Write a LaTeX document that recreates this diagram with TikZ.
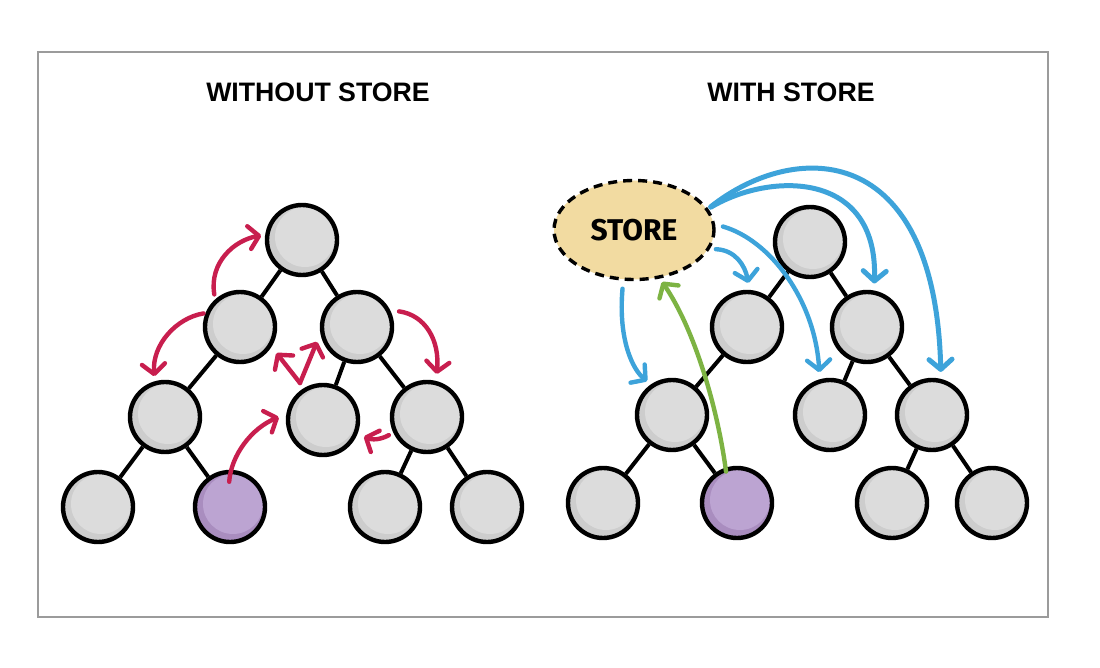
\documentclass[tikz,border=0pt]{standalone}
\usepackage{fontspec}
\setmainfont{Liberation Sans}
\newfontfamily\storefont{Fira Sans}
\usetikzlibrary{arrows.meta,shapes.geometric}
\definecolor{framegray}{HTML}{9B9B9B}
\definecolor{nodegray}{HTML}{CDCDCD}
\definecolor{nodelight}{HTML}{DCDCDC}
\definecolor{purpbase}{HTML}{A98DBF}
\definecolor{purplight}{HTML}{BCA4D2}
\definecolor{redarrow}{HTML}{C81E4E}
\definecolor{bluearrow}{HTML}{3DA3DA}
\definecolor{greenarrow}{HTML}{7DB343}
\definecolor{storefill}{HTML}{F2DBA1}
\tikzset{
  tnode/.style={circle, draw=black, line width=4.4pt, minimum size=70pt, inner sep=0pt,
    fill=nodegray,
    path picture={\fill[nodelight] ([xshift=3pt,yshift=3pt]path picture bounding box.center) circle[radius=30pt];}},
  pnode/.style={tnode, fill=purpbase,
    path picture={\fill[purplight] ([xshift=3pt,yshift=3pt]path picture bounding box.center) circle[radius=30pt];}},
  edge/.style={line width=4pt, draw=black},
  arr/.style={line width=4.4pt, line cap=round,
    -{Straight Barb[length=10pt,width=23pt,line cap=round,line join=round]}},
  redarr/.style={arr, draw=redarrow},
  bluearr/.style={arr, draw=bluearrow},
  greenarr/.style={arr, draw=greenarrow},
  title/.style={font=\bfseries\fontsize{26.7}{31}\selectfont, inner sep=0pt},
}
\begin{document}
\begin{tikzpicture}[x=1pt,y=-1pt]
\useasboundingbox[fill=white] (0,0) rectangle (1100,668);
\node[draw=framegray, line width=1.6pt, minimum width=1010pt, minimum height=565pt, inner sep=0pt] (frame) at (543,334.5) {};

\node[title] (t1) at (318,92) {WITHOUT STORE};
\node[title] (t2) at (791,92) {WITH STORE};

% left tree
\node[tnode] (root) at (302,240) {};
\node[tnode] (l1a) at (240,327) {};
\node[tnode] (l1b) at (357,327) {};
\node[tnode] (l2a) at (165,417) {};
\node[tnode] (l2b) at (323,420) {};
\node[tnode] (l2c) at (427,417) {};
\node[tnode] (l3a) at (98,507) {};
\node[pnode] (l3b) at (230,507) {};
\node[tnode] (l3c) at (385,507) {};
\node[tnode] (l3d) at (487,507) {};
\draw[edge] (root) -- (l1a);
\draw[edge] (root) -- (l1b);
\draw[edge] (l1a) -- (l2a);
\draw[edge] (l1b) -- (l2b);
\draw[edge] (l1b) -- (l2c);
\draw[edge] (l2a) -- (l3a);
\draw[edge] (l2a) -- (l3b);
\draw[edge] (l2c) -- (l3c);
\draw[edge] (l2c) -- (l3d);

% red arrows
\draw[redarr, shorten <=5pt, shorten >=4pt] (l1a.132) .. controls (209,262) and (235,240) .. (root.172);
\draw[redarr, shorten <=2pt, shorten >=5pt] (l1a.158) .. controls (176,318) and (152,345) .. (l2a.106);
\coordinate (vtip) at (300,383);
\draw[redarr, shorten >=8pt] (vtip) -- (l1a.-32);
\draw[redarr, shorten >=9pt] (vtip) -- (l1b.190);
\draw[redarr, shorten <=-12pt, shorten >=8pt] (l3b.north) .. controls (231,455) and (252,428) .. (l2b.171);
\draw[redarr, shorten <=9pt, shorten >=7pt] (l1b.27) .. controls (425,315) and (440,340) .. (l2c.76);
\draw[redarr, shorten <=5pt, shorten >=7pt] (l2c.205) .. controls (380,440) and (372,440) .. (l2b.-22);

% right tree
\node[ellipse, draw=black, line width=3.4pt, dash pattern=on 9pt off 6pt, fill=storefill,
  minimum width=160pt, minimum height=99pt, inner sep=0pt,
  font=\storefont\bfseries\fontsize{30}{34}\selectfont] (store) at (634,230) {STORE};
\node[tnode] (rroot) at (810,242) {};
\node[tnode] (r1a) at (747,327) {};
\node[tnode] (r1b) at (867,327) {};
\node[tnode] (r2a) at (672,415) {};
\node[tnode] (r2b) at (830,415) {};
\node[tnode] (r2c) at (932,415) {};
\node[tnode] (r3a) at (603,503) {};
\node[pnode] (r3b) at (737,503) {};
\node[tnode] (r3c) at (892,503) {};
\node[tnode] (r3d) at (992,503) {};
\draw[edge] (rroot) -- (r1a);
\draw[edge] (rroot) -- (r1b);
\draw[edge] (r1a) -- (r2a);
\draw[edge] (r1b) -- (r2b);
\draw[edge] (r1b) -- (r2c);
\draw[edge] (r2a) -- (r3a);
\draw[edge] (r2a) -- (r3b);
\draw[edge] (r2c) -- (r3c);
\draw[edge] (r2c) -- (r3d);

% blue arrows
\draw[bluearr, shorten <=8pt, shorten >=5pt] (store.258) .. controls (618,340) and (633,370) .. (r2a.124);
\draw[bluearr, shorten <=6pt, shorten >=7pt] (store.-14) .. controls (735,250) and (745,265) .. (r1a.86);
\draw[bluearr, shorten <=8pt, shorten >=7pt] (store.4) .. controls (770,240) and (815,300) .. (r2b.106);
\draw[bluearr, line width=5pt, shorten <=3pt, shorten >=7pt] (store.16) .. controls (770,172) and (878,170) .. (r1b.79);
\draw[bluearr, line width=5pt, shorten <=3pt, shorten >=7pt] (store.16) .. controls (795,140) and (935,140) .. (r2c.76);

% green arrow
\draw[greenarr, shorten <=-4pt, shorten >=4pt] (r3b.108) .. controls (718,410) and (695,330) .. (store.-62);
\end{tikzpicture}
\end{document}
